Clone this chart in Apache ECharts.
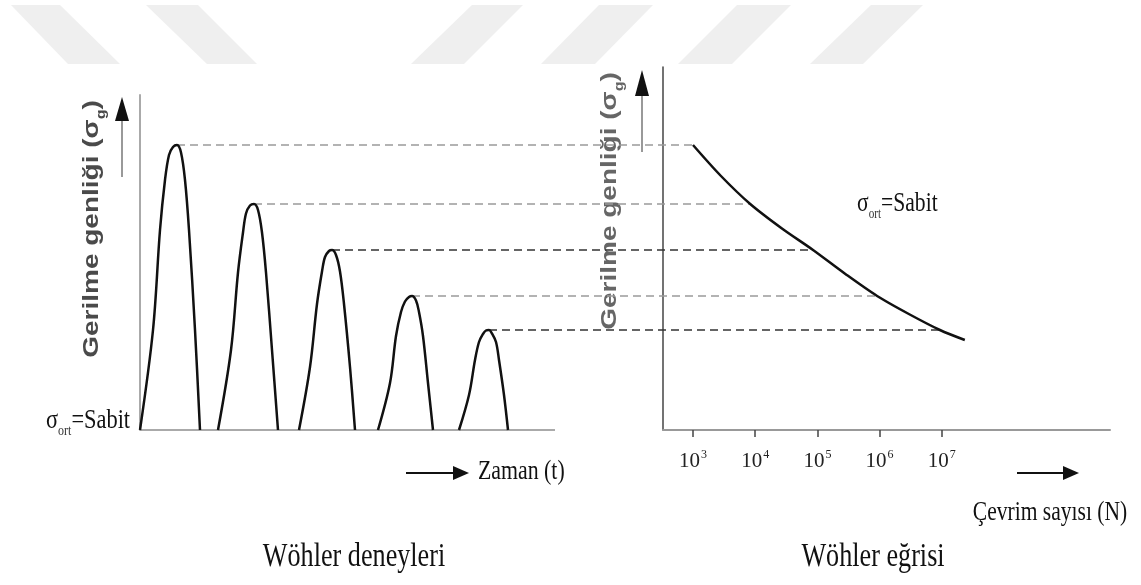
<!DOCTYPE html>
<html><head><meta charset="utf-8">
<script src="https://cdn.jsdelivr.net/npm/echarts@6/dist/echarts.min.js"></script>
<style>html,body{margin:0;padding:0;background:#fff}#c{width:1141px;height:585px}</style>
</head><body><div id="c"></div><script>
// ---- data (time units / stress units) ----
const pulse1 = [[0,0],[1.3,20],[2.0,40],[2.5,50],[2.9,55],[3.3,56.6],[3.7,57],[4.1,55.5],[4.5,50],[4.9,40],[5.5,20],[6.0,0]];
const pulse2 = [[7.8,0],[9.1,16],[9.8,31.5],[10.3,39.5],[10.6,43.3],[11.0,44.9],[11.4,45.2],[11.8,44],[12.2,39.5],[12.6,31.5],[13.2,16],[13.8,0]];
const pulse3 = [[15.9,0],[17.0,12.6],[17.7,25.2],[18.2,31.7],[18.5,34.6],[18.9,35.8],[19.2,36],[19.6,35],[20.0,31.7],[20.4,25.2],[21.0,12.6],[21.5,0]];
const pulse4 = [[23.8,0],[25.0,9.4],[25.6,18.8],[26.1,23.6],[26.5,25.7],[26.9,26.6],[27.2,26.8],[27.6,25.9],[27.9,23.6],[28.3,18.8],[28.8,9.4],[29.3,0]];
const pulse5 = [[31.9,0],[32.9,7],[33.5,14],[33.9,17.6],[34.3,19.2],[34.6,19.9],[34.9,20],[35.2,19.3],[35.6,17.6],[35.9,14],[36.4,7],[36.8,0]];
const pulses = [pulse1, pulse2, pulse3, pulse4, pulse5];
const peakTime = [3.7, 11.4, 19.2, 27.2, 34.9];
const stressAmp = [57, 45.2, 36, 26.8, 20];
const curveExp = [3, 3.92, 4.93, 5.96, 6.97];      // log10(N) where each amplitude meets the curve
const snCurve = [[3,57],[3.45,50.8],[3.92,45.2],[4.43,40.3],[4.93,36],[5.45,31.2],[5.96,26.8],[6.47,23.2],[6.97,20],[7.37,18]];
const tickExp = [3, 4, 5, 6, 7];
const dashColors = ['#9a9a9a','#9a9a9a','#333333','#9a9a9a','#333333'];
const timeEnd = 41.5;

// ---- axis ranges ----
const leftXMax = 52.3, leftYMax = 67;
const rightXMin = 2.518, rightXMax = 9.704, rightYMax = 72.6;

const serif = 'Liberation Serif';
const sans = 'Liberation Sans';

const series = [];
series.push({type:'line', xAxisIndex:0, yAxisIndex:0, data:[[0,0],[timeEnd,0]], symbol:'none',
  lineStyle:{color:'#aaaaaa', width:2}, silent:true, z:1});
pulses.forEach(p => series.push({type:'line', xAxisIndex:0, yAxisIndex:0, data:p, symbol:'none', smooth:0.35,
  lineStyle:{color:'#111', width:2.5}, silent:true, z:3}));
stressAmp.forEach((a,i) => {
  series.push({type:'line', xAxisIndex:0, yAxisIndex:0, data:[[peakTime[i],a],[leftXMax,a]], symbol:'none',
    lineStyle:{color:dashColors[i], width:1.6, type:[8,5]}, silent:true, z:2});
  series.push({type:'line', xAxisIndex:1, yAxisIndex:1, data:[[rightXMin,a],[curveExp[i],a]], symbol:'none',
    lineStyle:{color:dashColors[i], width:1.6, type:[8,5], dashOffset:((leftXMax-peakTime[i])*10)%13}, silent:true, z:2});
});
series.push({type:'line', xAxisIndex:1, yAxisIndex:1, data:snCurve, symbol:'none', smooth:0.3,
  lineStyle:{color:'#111', width:2.5}, silent:true, z:3});

const hidden = {axisLine:{show:false}, axisTick:{show:false}, axisLabel:{show:false}, splitLine:{show:false}};

const option = {
  animation:false,
  backgroundColor:'#fff',
  grid:[{left:140, top:95, width:523, height:335}, {left:663, top:67, width:447, height:363}],
  xAxis:[
    Object.assign({type:'value', gridIndex:0, min:0, max:leftXMax}, hidden),
    {type:'value', gridIndex:1, min:rightXMin, max:rightXMax,
      axisLine:{show:true, onZero:false, lineStyle:{color:'#999', width:2}},
      axisTick:{show:true, customValues:tickExp, length:6, lineStyle:{color:'#444', width:1.5}},
      axisLabel:{show:true, customValues:tickExp, margin:20,
        formatter: v => '{b|10}{s|' + v + '}',
        rich:{b:{fontFamily:serif, fontSize:21, color:'#222', lineHeight:22, verticalAlign:'bottom'},
              s:{fontFamily:serif, fontSize:12, color:'#222', lineHeight:12, padding:[0,0,11,1], verticalAlign:'bottom'}}},
      splitLine:{show:false}},
    {type:'value', gridIndex:1, min:rightXMin, max:rightXMax,
      axisLine:{show:false}, axisLabel:{show:false}, splitLine:{show:false},
      axisTick:{show:true, inside:true, customValues:tickExp, length:7, lineStyle:{color:'#444', width:1.5}}}
  ],
  yAxis:[
    {type:'value', gridIndex:0, min:0, max:leftYMax, axisLine:{show:true, onZero:false, lineStyle:{color:'#aaaaaa', width:2}},
      axisTick:{show:false}, axisLabel:{show:false}, splitLine:{show:false}},
    {type:'value', gridIndex:1, min:0, max:rightYMax, axisLine:{show:true, onZero:false, lineStyle:{color:'#444', width:1.5}},
      axisTick:{show:false}, axisLabel:{show:false}, splitLine:{show:false}}
  ],
  series: series,
  graphic:[
    // watermark bands
    {type:'polygon', z:-10, shape:{points:[[11,5],[60,5],[120,64],[68,64]]}, style:{fill:'#efefef'}},
    {type:'polygon', z:-10, shape:{points:[[146,5],[198,5],[257,64],[207,64]]}, style:{fill:'#efefef'}},
    {type:'polygon', z:-10, shape:{points:[[472,5],[523,5],[464,64],[411,64]]}, style:{fill:'#efefef'}},
    {type:'polygon', z:-10, shape:{points:[[599,5],[653,5],[595,64],[541,64]]}, style:{fill:'#efefef'}},
    {type:'polygon', z:-10, shape:{points:[[737,5],[791,5],[732,64],[678,64]]}, style:{fill:'#efefef'}},
    {type:'polygon', z:-10, shape:{points:[[871,5],[923,5],[863,64],[810,64]]}, style:{fill:'#efefef'}},
    // vertical axis titles
    {type:'text', x:95, y:229, rotation:Math.PI/2, scaleY:0.8, style:{
      text:'{a|Gerilme genliği (σ}{s|g}{a|)}', textAlign:'center', textVerticalAlign:'middle',
      rich:{a:{fontFamily:sans, fontWeight:'bold', fontSize:28, fill:'#4a4a4a', lineHeight:31, padding:[0,0,5,0], verticalAlign:'bottom'},
            s:{fontFamily:sans, fontWeight:'bold', fontSize:16, fill:'#4a4a4a', lineHeight:17, verticalAlign:'bottom'}}}},
    {type:'text', x:613, y:201, rotation:Math.PI/2, scaleY:0.8, style:{
      text:'{a|Gerilme genliği (σ}{s|g}{a|)}', textAlign:'center', textVerticalAlign:'middle',
      rich:{a:{fontFamily:sans, fontWeight:'bold', fontSize:28, fill:'#666', lineHeight:31, padding:[0,0,5,0], verticalAlign:'bottom'},
            s:{fontFamily:sans, fontWeight:'bold', fontSize:16, fill:'#666', lineHeight:17, verticalAlign:'bottom'}}}},
    // up arrows
    {type:'line', shape:{x1:122, y1:177, x2:122, y2:112}, style:{stroke:'#999', lineWidth:2}},
    {type:'polygon', shape:{points:[[122,97],[115,121],[129,121]]}, style:{fill:'#111'}},
    {type:'line', shape:{x1:642, y1:152, x2:642, y2:88}, style:{stroke:'#999', lineWidth:2}},
    {type:'polygon', shape:{points:[[642,70],[635,96],[649,96]]}, style:{fill:'#111'}},
    // right arrows
    {type:'line', shape:{x1:406, y1:473, x2:456, y2:473}, style:{stroke:'#111', lineWidth:2}},
    {type:'polygon', shape:{points:[[469,473],[453,466],[453,480]]}, style:{fill:'#111'}},
    {type:'line', shape:{x1:1017, y1:473, x2:1066, y2:473}, style:{stroke:'#111', lineWidth:2}},
    {type:'polygon', shape:{points:[[1079,473],[1063,466],[1063,480]]}, style:{fill:'#111'}},
    // sigma_ort labels
    {type:'text', x:46, y:424, scaleX:0.8, style:{text:'{a|σ}{s|ort}{a|=Sabit}', textAlign:'left', textVerticalAlign:'middle',
      rich:{a:{fontFamily:serif, fontSize:28, fill:'#111', lineHeight:30, padding:[0,0,4,0], verticalAlign:'bottom'},
            s:{fontFamily:serif, fontSize:15, fill:'#333', lineHeight:16, verticalAlign:'bottom'}}}},
    {type:'text', x:857, y:207, scaleX:0.8, style:{text:'{a|σ}{s|ort}{a|=Sabit}', textAlign:'left', textVerticalAlign:'middle',
      rich:{a:{fontFamily:serif, fontSize:27, fill:'#111', lineHeight:29, padding:[0,0,4,0], verticalAlign:'bottom'},
            s:{fontFamily:serif, fontSize:14, fill:'#333', lineHeight:15, verticalAlign:'bottom'}}}},
    // axis names
    {type:'text', x:478, y:472, scaleX:0.78, style:{text:'Zaman (t)', font:'28px "Liberation Serif"', fill:'#111', textAlign:'left', textVerticalAlign:'middle'}},
    {type:'text', x:1050, y:513, scaleX:0.77, style:{text:'Çevrim sayısı (N)', font:'28px "Liberation Serif"', fill:'#111', textAlign:'center', textVerticalAlign:'middle'}},
    // panel titles
    {type:'text', x:354, y:557, scaleX:0.77, style:{text:'Wöhler deneyleri', font:'34px "Liberation Serif"', fill:'#111', textAlign:'center', textVerticalAlign:'middle'}},
    {type:'text', x:873, y:557, scaleX:0.77, style:{text:'Wöhler eğrisi', font:'34px "Liberation Serif"', fill:'#111', textAlign:'center', textVerticalAlign:'middle'}}
  ]
};
const chart = echarts.init(document.getElementById('c'), null, {renderer:'canvas'});
chart.setOption(option);
</script></body></html>
